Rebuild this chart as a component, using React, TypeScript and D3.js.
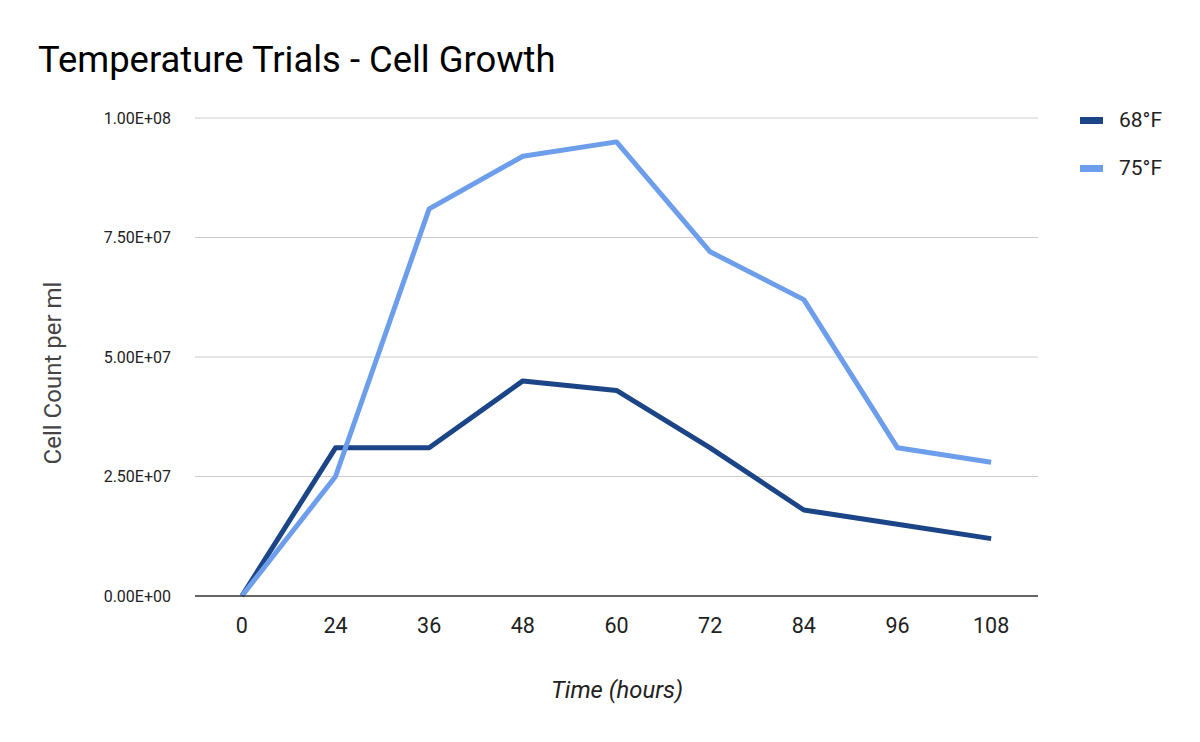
import React from "react";
import * as d3 from "d3";

const hours = ["0", "24", "36", "48", "60", "72", "84", "96", "108"];
const temp68 = [0, 3.1e7, 3.1e7, 4.5e7, 4.3e7, 3.1e7, 1.8e7, 1.5e7, 1.2e7];
const temp75 = [0, 2.5e7, 8.1e7, 9.2e7, 9.5e7, 7.2e7, 6.2e7, 3.1e7, 2.8e7];
const yTicks = [0, 2.5e7, 5e7, 7.5e7, 1e8];
const seriesNames = ["68°F", "75°F"];
const colors = ["#1c4587", "#6d9eeb"];

const W = 1200;
const H = 742;
const left = 195;
const right = 1038;
const top = 118;
const bottom = 596;

function fmt(v: number) {
  const exp = v === 0 ? 0 : Math.floor(Math.log10(v));
  const mant = v === 0 ? 0 : v / Math.pow(10, exp);
  return `${mant.toFixed(2)}E+${String(exp).padStart(2, "0")}`;
}

export default function App() {
  const x = d3.scaleBand<string>().domain(hours).range([left, right]).padding(0);
  const y = d3.scaleLinear().domain([0, 1e8]).range([bottom, top]);
  const cx = (h: string) => (x(h) as number) + x.bandwidth() / 2;
  const line = d3
    .line<number>()
    .x((_, i) => cx(hours[i]))
    .y((d) => y(d));
  const series = [temp68, temp75];
  const font = "Roboto, sans-serif";
  return (
    <svg
      width={W}
      height={H}
      style={{ position: "absolute", left: 0, top: 0, background: "#fff" }}
      fontFamily={font}
    >
      <rect width={W} height={H} fill="#fff" />
      <text x={38} y={72} fontSize={36.4} fill="#000">
        Temperature Trials - Cell Growth
      </text>
      {yTicks.map((t) => (
        <g key={t}>
          {t !== 0 && (
            <line x1={left} x2={right} y1={y(t)} y2={y(t)} stroke="#cccccc" strokeWidth={1} />
          )}
          <text x={171} y={y(t)} dy="0.35em" textAnchor="end" fontSize={16} fill="#222">
            {fmt(t)}
          </text>
        </g>
      ))}
      {series.map((s, i) => (
        <path
          key={i}
          d={line(s) || ""}
          fill="none"
          stroke={colors[i]}
          strokeWidth={5}
          strokeLinejoin="round"
        />
      ))}
      <line x1={left} x2={right} y1={bottom} y2={bottom} stroke="#333" strokeWidth={1.5} />
      {hours.map((h) => (
        <text key={h} x={cx(h)} y={625} dy="0.35em" textAnchor="middle" fontSize={21.5} fill="#222">
          {h}
        </text>
      ))}
      <text x={617} y={690} dy="0.35em" textAnchor="middle" fontSize={23.8} fontStyle="italic" fill="#222">
        Time (hours)
      </text>
      <text
        transform={`translate(53,${373}) rotate(-90)`}
        dy="0.35em"
        textAnchor="middle"
        fontSize={24}
        fill="#444"
      >
        Cell Count per ml
      </text>
      {seriesNames.map((n, i) => (
        <g key={n} transform={`translate(1080,${120 + i * 48})`}>
          <rect x={0} y={-3} width={23} height={7} fill={colors[i]} />
          <text x={39} y={0} dy="0.35em" fontSize={21} fill="#222">
            {n}
          </text>
        </g>
      ))}
    </svg>
  );
}
